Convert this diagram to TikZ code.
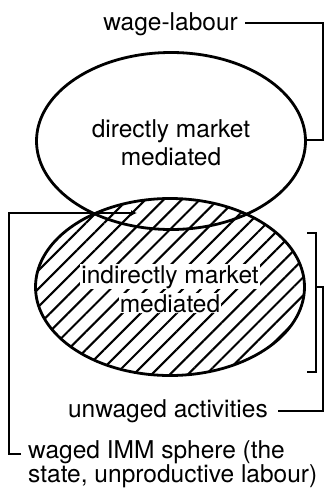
\documentclass[tikz,border=0pt]{standalone}
\usepackage{fontspec}
\setmainfont{TeX Gyre Heros}
\usetikzlibrary{shapes.geometric,patterns.meta,arrows.meta}
\begin{document}
\begin{tikzpicture}[x=1pt,y=-1pt,
  lbl/.style={font=\fontsize{24.5}{22.5}\selectfont, inner sep=1pt},
  oval/.style={ellipse, draw, line width=2.8pt, inner sep=0pt, minimum width=269pt, minimum height=177pt},
  conn/.style={line width=1.3pt}]
\useasboundingbox (0,0) rectangle (329,490);
% lower ellipse with hatching
\node[oval, pattern={Lines[angle=45,distance=12.8pt,line width=2.1pt]}] (low) at (170,287) {};
\node[oval] (up) at (171,141) {};
% texts
\node[lbl, anchor=base] (d1) at (171,137) {directly market};
\node[lbl, anchor=base] (d2) at (171,165) {mediated};
\node[lbl, anchor=base, fill=white] (i1) at (170,283) {indirectly market};
\node[lbl, anchor=base, fill=white] (i2) at (170,312) {mediated};
\node[lbl, anchor=base east] (wl) at (239,30) {wage-labour};
\node[lbl, anchor=base east] (ua) at (269,417) {unwaged activities};
\node[lbl, anchor=north west, align=left] (wi) at (27,439) {waged IMM sphere (the\\state, unproductive labour)};
% connectors
\coordinate (wlA) at (323,23);
\coordinate (wlB) at (323,140);
\draw[conn] (wl.east |- 0,23) ++(6,0) -- (wlA) -- (wlB) -- (up.east |- wlB);
\coordinate (b1a) at (316,233);
\coordinate (b1b) at (316,372);
\draw[conn] (307,233) -- (b1a) -- (b1b) -- (307,372);
\coordinate (b2a) at (323,287);
\coordinate (b2b) at (323,411);
\draw[conn] (b1a |- b2a) -- (b2a) -- (b2b) -- ([xshift=9pt]ua.east |- b2b);
\coordinate (lens) at (137,213);
\coordinate (lA) at (9,213);
\coordinate (lB) at (9,454);
\draw[conn, -{Latex[length=6pt,width=6pt]}] ([xshift=12pt]lB -| lA) -- (lB) -- (lA) -- (lens);
\end{tikzpicture}
\end{document}
